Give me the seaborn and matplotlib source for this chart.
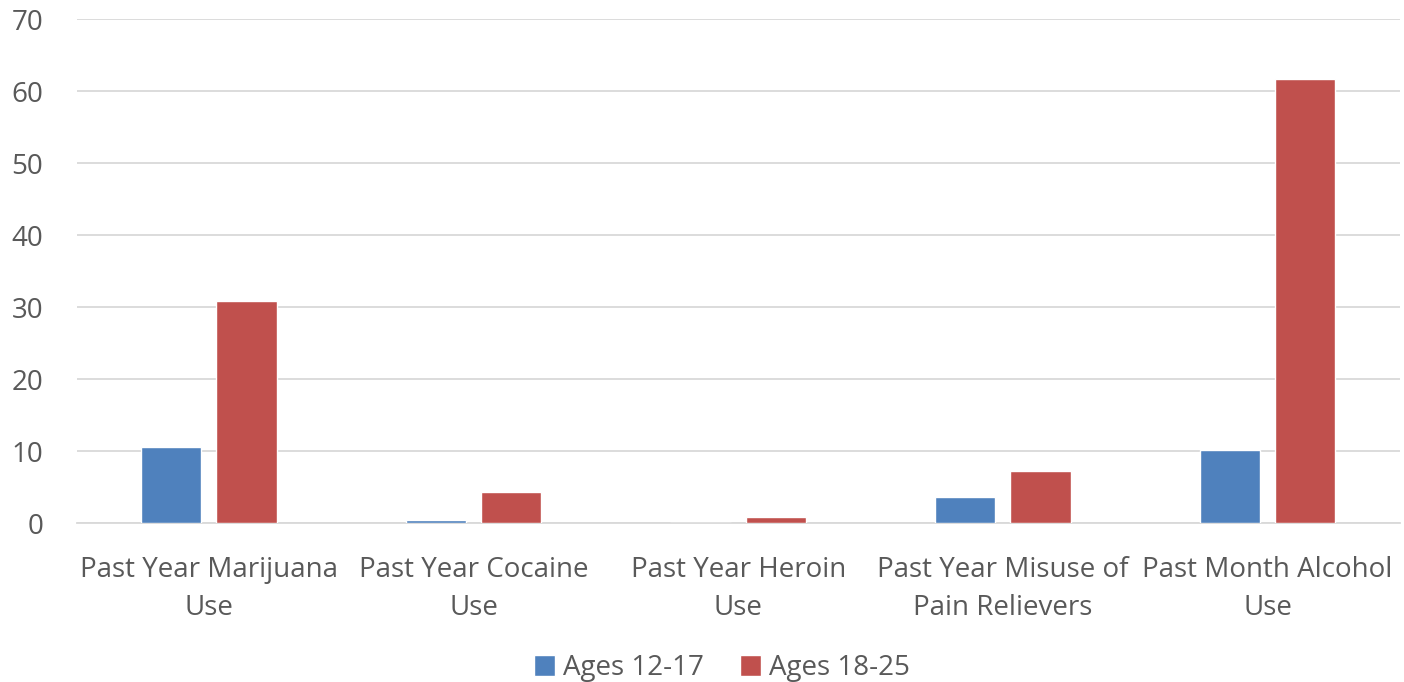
import pandas as pd
import matplotlib.pyplot as plt
import seaborn as sns

categories = ["Past Year Marijuana\nUse", "Past Year Cocaine\nUse", "Past Year Heroin\nUse",
              "Past Year Misuse of\nPain Relievers", "Past Month Alcohol\nUse"]
ages_12_17 = [10.5, 0.4, 0.0, 3.6, 10.1]
ages_18_25 = [30.8, 4.3, 0.8, 7.3, 61.7]
groups = ["Ages 12-17", "Ages 18-25"]
colors = ["#4F81BD", "#C0504D"]

df = pd.DataFrame({
    "category": categories * 2,
    "value": ages_12_17 + ages_18_25,
    "group": [groups[0]] * 5 + [groups[1]] * 5,
})

sns.set_theme(style="white")
plt.rcParams['font.family'] = ['Open Sans', 'DejaVu Sans']
text_color = "#595959"

fig, ax = plt.subplots(figsize=(14.04, 6.82), dpi=100)
fig.subplots_adjust(left=0.0545, right=0.997, top=0.972, bottom=0.233)

sns.barplot(data=df, x="category", y="value", hue="group", palette=colors,
            width=0.57, gap=0.2, saturation=1, ax=ax, zorder=3, legend=True)

ax.set_ylim(0, 70)
ax.set_yticks(range(0, 71, 10))
ax.set_xlim(-0.5, 4.5)
ax.yaxis.grid(True, color="#d9d9d9", linewidth=1.3, zorder=0)
for s in ["top", "right", "left"]:
    ax.spines[s].set_visible(False)
ax.spines["bottom"].set_color("#d9d9d9")
ax.spines["bottom"].set_linewidth(1.3)
ax.set_xlabel("")
ax.set_ylabel("")
ax.tick_params(axis="both", colors=text_color, labelsize=20, length=0)
ax.tick_params(axis="x", pad=24)
ax.tick_params(axis="y", pad=24)
for lbl in ax.get_xticklabels():
    lbl.set_linespacing(1.45)

handles, labels = ax.get_legend_handles_labels()
ax.legend(handles, labels, loc="lower center", bbox_to_anchor=(0.488, -0.365), ncol=2,
          frameon=False, fontsize=20, labelcolor=text_color, handlelength=0.75,
          handleheight=0.75, handletextpad=0.3, columnspacing=1.3)

plt.savefig("out.png", dpi=100)
plt.close()
